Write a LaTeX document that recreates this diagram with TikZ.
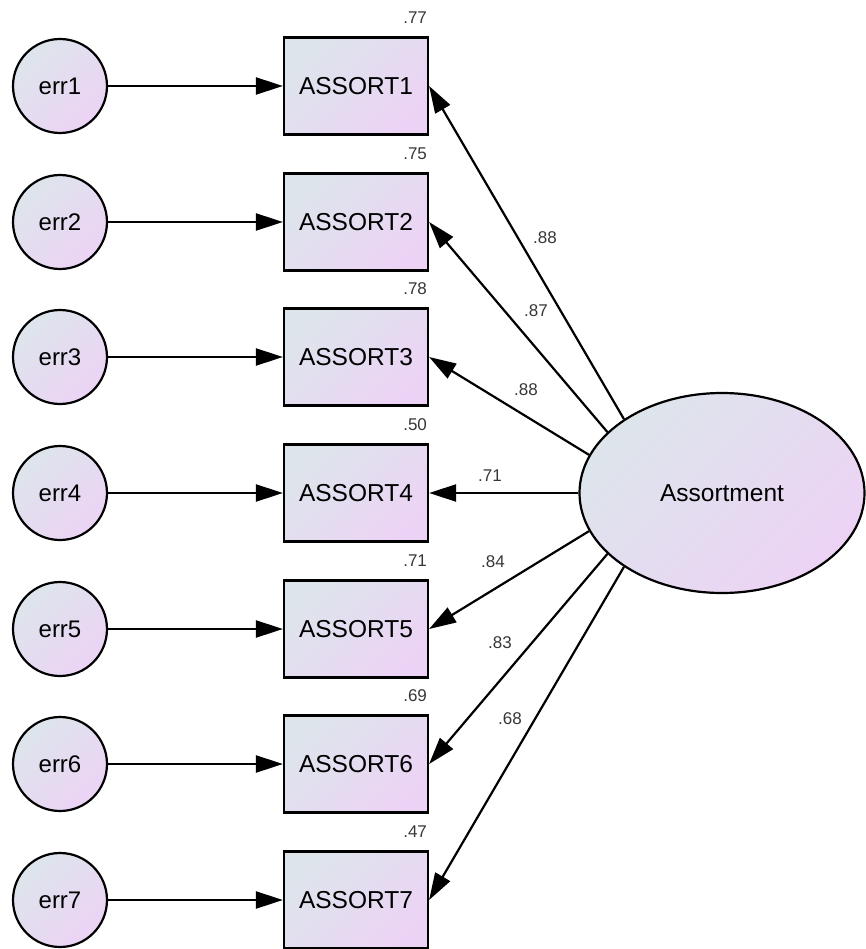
\documentclass[tikz,border=0pt]{standalone}
\usepackage{fontspec}
\setmainfont{Liberation Sans}
\usetikzlibrary{arrows.meta,shapes.geometric}
\definecolor{fillA}{RGB}{221,229,235}
\definecolor{fillB}{RGB}{236,211,245}
\definecolor{numgray}{RGB}{55,55,55}
\begin{document}
\begin{tikzpicture}[x=1pt,y=-1pt,
  shadedfill/.style={left color=fillA, right color=fillB, shading angle=45},
  errnode/.style={circle, draw, line width=2.2pt, shadedfill, minimum size=94pt, inner sep=0pt,
    font=\fontsize{24}{27}\selectfont},
  obsnode/.style={rectangle, draw, line width=2.2pt, shadedfill, minimum width=144pt,
    minimum height=97pt, inner sep=0pt, font=\fontsize{24.5}{27}\selectfont},
  latnode/.style={ellipse, draw, line width=2.2pt, shadedfill, minimum width=285pt,
    minimum height=200pt, inner sep=0pt, font=\fontsize{24.5}{27}\selectfont},
  regarrow/.style={line width=2.2pt, -{Triangle[length=27pt,width=17pt]}},
  num/.style={text=numgray, font=\fontsize{17}{19}\selectfont, inner sep=0pt},
  r2/.style={num, anchor=base east}
]
\useasboundingbox (0,0) rectangle (865,949);

% error terms and indicators, one row each
\foreach \i/\yy in {1/86,2/222,3/357,4/493,5/629,6/764,7/900} {
  \node[errnode] (err\i) at (60,\yy) {err\i};
  \node[obsnode] (as\i) at (356,\yy) {ASSORT\i};
  \draw[regarrow] (err\i) -- (as\i);
}

% latent factor
\node[latnode] (fac) at (722,493) {Assortment};

% loadings
\draw[regarrow] (fac.143) -- (as1.east);
\draw[regarrow] (fac.152) -- (as2.east);
\draw[regarrow] (fac.164) -- (as3.east);
\draw[regarrow] (fac.180) -- (as4.east);
\draw[regarrow] (fac.196) -- (as5.east);
\draw[regarrow] (fac.208) -- (as6.east);
\draw[regarrow] (fac.217) -- (as7.east);

% squared multiple correlations
\node[r2] (r1) at ([xshift=-2pt,yshift=13pt]as1.north east) {.77};
\node[r2] (r2) at ([xshift=-2pt,yshift=13pt]as2.north east) {.75};
\node[r2] (r3) at ([xshift=-2pt,yshift=13pt]as3.north east) {.78};
\node[r2] (r4) at ([xshift=-2pt,yshift=13pt]as4.north east) {.50};
\node[r2] (r5) at ([xshift=-2pt,yshift=13pt]as5.north east) {.71};
\node[r2] (r6) at ([xshift=-2pt,yshift=13pt]as6.north east) {.69};
\node[r2] (r7) at ([xshift=-2pt,yshift=13pt]as7.north east) {.47};

% loading estimates
\node[num] (l1) at (545,238) {.88};
\node[num] (l2) at (536,311) {.87};
\node[num] (l3) at (526,390) {.88};
\node[num] (l4) at (490,476) {.71};
\node[num] (l5) at (493,562) {.84};
\node[num] (l6) at (500,643) {.83};
\node[num] (l7) at (510,719) {.68};
\end{tikzpicture}
\end{document}
